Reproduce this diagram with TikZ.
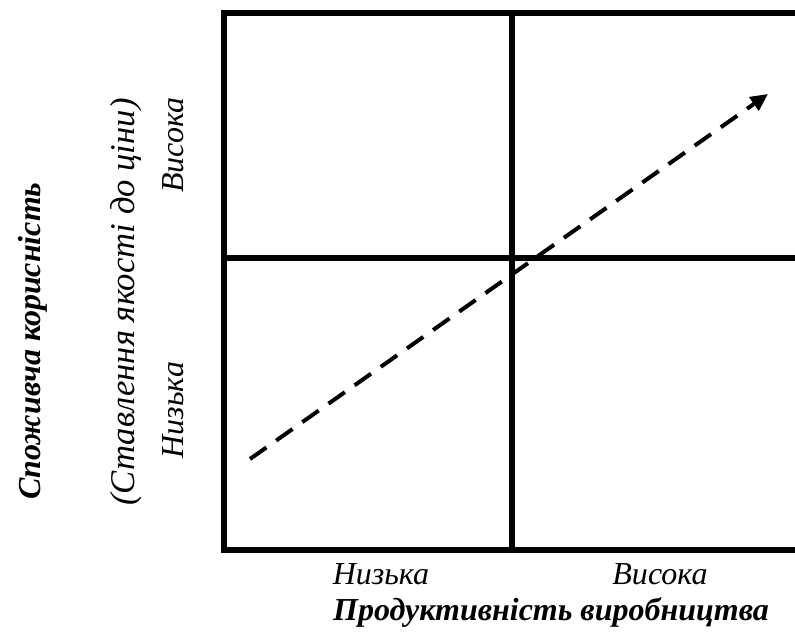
\documentclass[tikz,border=0pt]{standalone}
\usepackage{fontspec}
\setmainfont{Liberation Serif}
\usetikzlibrary{arrows.meta}
\begin{document}
\begin{tikzpicture}[x=0.75pt,y=-0.75pt,
  gridline/.style={line width=4.5pt},
  flowarrow/.style={line width=3pt, dash pattern=on 15pt off 9pt,
    -{Triangle[length=13pt,width=12pt]}},
  lbl/.style={font=\fontsize{24}{28}\selectfont\itshape, inner sep=0pt, anchor=base},
  ttl/.style={font=\fontsize{24}{28}\selectfont\bfseries\itshape, inner sep=0pt, anchor=base}]
\useasboundingbox (0,0) rectangle (795,639);
% grid corners
\coordinate (tr) at (800,13);
\coordinate (tl) at (224,13);
\coordinate (bl) at (224,550);
\coordinate (br) at (800,550);
\coordinate (mt) at (512,13);
\coordinate (mb) at (512,550);
\coordinate (ml) at (224,258);
\coordinate (mr) at (800,258);
\draw[gridline] (tr) -- (tl) -- (bl) -- (br);
\draw[gridline] (mt) -- (mb);
\draw[gridline] (ml) -- (mr);
% arrow
\coordinate (as) at (250,459);
\coordinate (ae) at (768,94);
\draw[flowarrow] (as) -- (ae);
% bottom labels
\node[lbl] (xlow) at (381,584) {Низька};
\node[lbl] (xhigh) at (660,584) {Висока};
\node[ttl] (xtitle) at (551,620) {Продуктивність виробництва};
% left labels
\node[lbl, rotate=90] (yhigh) at (183,145) {Висока};
\node[lbl, rotate=90] (ylow) at (183,410) {Низька};
\node[lbl, rotate=90, font=\fontsize{26}{30}\selectfont\itshape] (ysub) at (134,302) {(Ставлення якості до ціни)};
\node[ttl, rotate=90] (ytitle) at (40,341) {Споживча корисність};
\end{tikzpicture}
\end{document}
